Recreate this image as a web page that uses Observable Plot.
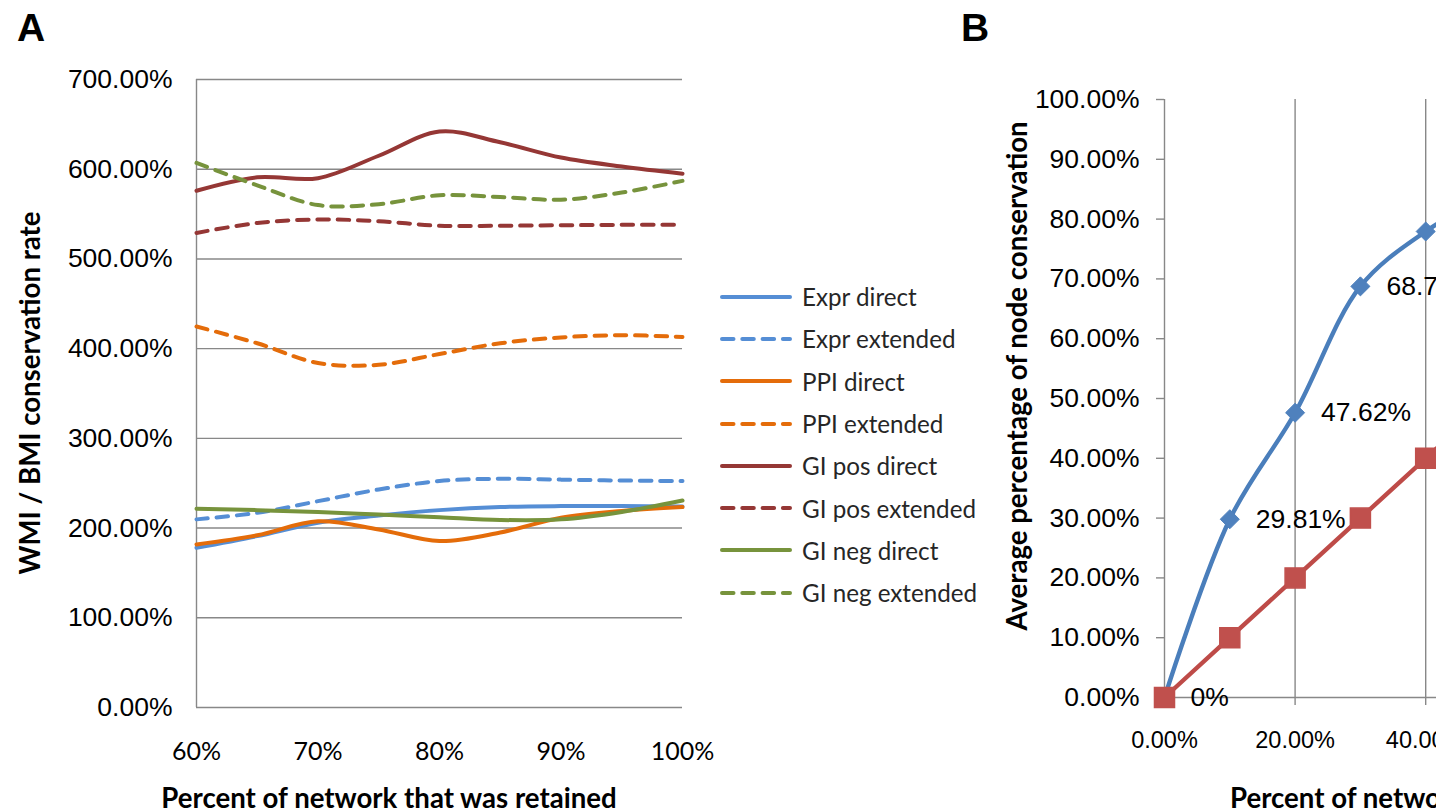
<!DOCTYPE html>
<html>
<head>
<meta charset="utf-8">
<script src="https://cdn.jsdelivr.net/npm/d3@7"></script>
<script src="https://cdn.jsdelivr.net/npm/@observablehq/plot@0.6"></script>
<style>
  html, body { margin: 0; padding: 0; background: #fff; overflow: hidden; }
  #fig { position: relative; width: 1436px; height: 810px; overflow: hidden; background: #fff; }
  .abs { position: absolute; }
  .panel-tag { font-family: "Liberation Sans", Arial, sans-serif; font-weight: bold; font-size: 39px; color: #000; line-height: 1; }
  .axis-title { font-family: Lato, "Open Sans", sans-serif; font-weight: bold; font-size: 27.6px; color: #000; white-space: nowrap; line-height: 1; }
  .rot { transform: translate(-50%, -50%) rotate(-90deg); }
  #legend { font-family: Lato, "Open Sans", sans-serif; font-size: 24.2px; color: #262626; }
  #legend .row { display: flex; align-items: center; height: 42.3px; }
  #legend svg { margin-right: 10px; }
</style>
</head>
<body>
<div id="fig"></div>
<script>
// ---- Panel A: WMI / BMI conservation rate vs. retained share of network ----
const retained = [60, 65, 70, 75, 80, 85, 90, 95, 100];
const retainedTicks = [60, 70, 80, 90, 100];
const rateTicks = [0, 100, 200, 300, 400, 500, 600, 700];

const seriesNames = [
  "Expr direct", "Expr extended", "PPI direct", "PPI extended",
  "GI pos direct", "GI pos extended", "GI neg direct", "GI neg extended"
];
const exprDirect     = [178, 191, 206, 214, 220, 223.5, 224.5, 224.5, 224];
const exprExtended   = [209.7, 217, 230, 243, 252.4, 255, 254, 253, 252.4];
const ppiDirect      = [181.8, 192, 207.5, 198.5, 185.5, 195, 211.5, 219, 223.4];
const ppiExtended    = [424.7, 406, 384, 382, 394, 406, 412.5, 415, 413];
const giPosDirect    = [576, 591, 590, 615, 642, 630, 613, 603, 595];
const giPosExtended  = [529, 540, 544, 542, 537, 537, 537.5, 538, 538];
const giNegDirect    = [221.6, 220, 218, 215, 212, 209, 209.7, 218, 230.8];
const giNegExtended  = [607, 582, 560, 561, 571, 569, 566, 574, 587];
const seriesValues = [exprDirect, exprExtended, ppiDirect, ppiExtended,
                      giPosDirect, giPosExtended, giNegDirect, giNegExtended];
const seriesColors = ["#558ED5", "#558ED5", "#E46C0A", "#E46C0A",
                      "#953735", "#953735", "#77933C", "#77933C"];
const seriesDashed = [false, true, false, true, false, true, false, true];

// ---- Panel B: node conservation vs. share of network ----
const networkShare       = [0, 10, 20, 30, 40, 50];
const nodeConservation   = [0, 29.81, 47.62, 68.75, 77.93, 84.2];
const randomConservation = [0, 10, 20, 30, 40, 50];
const shareTicks = [0, 20, 40, 60, 80, 100];
const nodeTicks = [0, 10, 20, 30, 40, 50, 60, 70, 80, 90, 100];

const DASH = "11.5,8.8";
const GRID = "#888888";
const pct2 = d => d.toFixed(2) + "%";

const fig = document.getElementById("fig");

// Panel A chart
const seriesRows = seriesNames.map((name, i) => ({
  name, color: seriesColors[i], dashed: seriesDashed[i],
  points: retained.map((x, j) => ({x, y: seriesValues[i][j]}))
}));

const chartA = Plot.plot({
  width: 720, height: 810,
  marginLeft: 196, marginRight: 38, marginTop: 79, marginBottom: 103,
  style: {fontFamily: "'Liberation Sans', Arial, sans-serif", color: "#000", background: "transparent"},
  x: {domain: [60, 100]},
  y: {domain: [0, 700]},
  marks: [
    Plot.gridY(rateTicks, {stroke: GRID, strokeOpacity: 1, strokeWidth: 1.4}),
    Plot.ruleX([60], {stroke: GRID, strokeWidth: 1.4}),
    Plot.axisY(rateTicks, {tickSize: 0, tickPadding: 24, tickFormat: pct2, fontSize: 26.5, fill: "#000", label: null}),
    Plot.axisX(retainedTicks, {tickSize: 0, tickPadding: 35, tickFormat: d => d + "%", fontSize: 25,
      fontFamily: "Lato, 'Open Sans', sans-serif", fill: "#000", label: null}),
    ...seriesRows.map(s => Plot.line(s.points, {
      x: "x", y: "y", stroke: s.color, strokeWidth: 4,
      strokeDasharray: s.dashed ? DASH : null, strokeLinecap: "round",
      curve: "catmull-rom"
    }))
  ]
});
chartA.classList.add("abs");
chartA.style.left = "0px";
chartA.style.top = "0px";
fig.appendChild(chartA);

// Panel B chart
const pointsB = networkShare.map((x, i) => ({x, node: nodeConservation[i], rand: randomConservation[i]}));
const diamond = {
  draw(context, size) {
    const h = Math.sqrt(size / 2);
    context.moveTo(0, -h); context.lineTo(h, 0); context.lineTo(0, h); context.lineTo(-h, 0); context.closePath();
  }
};

const chartB = Plot.plot({
  width: 847, height: 810,
  marginLeft: 174, marginRight: 20, marginTop: 99, marginBottom: 113,
  style: {fontFamily: "'Liberation Sans', Arial, sans-serif", color: "#000", background: "transparent", overflow: "visible"},
  x: {domain: [0, 100]},
  y: {domain: [0, 100]},
  marks: [
    Plot.gridX(shareTicks.filter(d => d > 0), {stroke: GRID, strokeOpacity: 1, strokeWidth: 1.4}),
    Plot.ruleX([0], {stroke: GRID, strokeWidth: 1.4}),
    Plot.ruleY([0], {stroke: GRID, strokeWidth: 1.4}),
    Plot.axisY(nodeTicks, {tickSize: 8, tickPadding: 17, tickFormat: pct2, fontSize: 26.5, fill: "#000",
      stroke: GRID, strokeWidth: 1.4, label: null}),
    Plot.axisX(shareTicks, {tickSize: 8, tickPadding: 26, tickFormat: pct2, fontSize: 23.5, fill: "#000",
      stroke: GRID, strokeWidth: 1.4, label: null}),
    Plot.line(pointsB, {x: "x", y: "node", stroke: "#4A7EBB", strokeWidth: 4.4, curve: "catmull-rom"}),
    Plot.dot(pointsB, {x: "x", y: "node", symbol: diamond, r: 7.6, fill: "#4F81BD", stroke: "#4F81BD", strokeWidth: 1}),
    Plot.text(pointsB, {x: "x", y: "node", text: d => d.node === 0 ? "0%" : pct2(d.node),
      dx: 26, textAnchor: "start", lineAnchor: "middle", fontSize: 26.5, fill: "#000"}),
    Plot.line(pointsB, {x: "x", y: "rand", stroke: "#BE4B48", strokeWidth: 4.4}),
    Plot.dot(pointsB, {x: "x", y: "rand", symbol: "square", r: 11.3, fill: "#C0504D", stroke: "#C0504D"})
  ]
});
chartB.classList.add("abs");
chartB.style.left = "990px";
chartB.style.top = "0px";
fig.appendChild(chartB);

// Panel tags and axis titles
function addDiv(cls, text, css) {
  const d = document.createElement("div");
  d.className = cls;
  d.textContent = text;
  Object.assign(d.style, css);
  fig.appendChild(d);
  return d;
}
addDiv("abs panel-tag", "A", {left: "17px", top: "8px"});
addDiv("abs panel-tag", "B", {left: "961px", top: "8px"});
addDiv("abs axis-title", "Percent of network that was retained", {left: "389px", top: "784px", transform: "translateX(-50%)"});
addDiv("abs axis-title rot", "WMI / BMI conservation rate", {left: "30px", top: "393px"});
addDiv("abs axis-title rot", "Average percentage of node conservation", {left: "1017px", top: "376px"});
addDiv("abs axis-title", "Percent of network that was retained", {left: "1230px", top: "784px"});

// Legend for panel A
const legend = document.createElement("div");
legend.id = "legend";
legend.className = "abs";
legend.style.left = "720px";
legend.style.top = "275.5px";
seriesNames.forEach((name, i) => {
  const row = document.createElement("div");
  row.className = "row";
  const sw = d3.create("svg").attr("width", 72).attr("height", 10);
  sw.append("line").attr("x1", 2).attr("x2", 70).attr("y1", 5).attr("y2", 5)
    .attr("stroke", seriesColors[i]).attr("stroke-width", 4).attr("stroke-linecap", "round")
    .attr("stroke-dasharray", seriesDashed[i] ? DASH : null);
  row.appendChild(sw.node());
  const label = document.createElement("span");
  label.textContent = name;
  row.appendChild(label);
  legend.appendChild(row);
});
fig.appendChild(legend);
</script>
</body>
</html>
